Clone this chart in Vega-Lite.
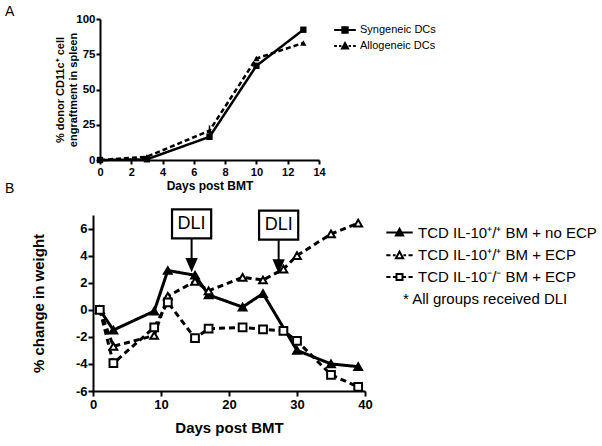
{
  "$schema": "https://vega.github.io/schema/vega-lite/v6.json",
  "padding": {"left": 5, "top": 5, "right": 5, "bottom": 5},
  "spacing": -10,
  "config": {
    "font": "Liberation Sans",
    "view": {"stroke": null},
    "axis": {
      "grid": false, "domainColor": "black", "domainWidth": 2, "tickColor": "black", "tickWidth": 2,
      "labelColor": "black", "titleColor": "black", "labelFontWeight": "bold", "titleFontWeight": "bold",
      "labelFont": "Liberation Sans", "titleFont": "Liberation Sans", "labelOverlap": false, "labelFlush": false, "tickCount": 30
    },
    "legend": {"padding": 0, "labelColor": "black", "labelFont": "Liberation Sans", "labelLimit": 0, "symbolStrokeWidth": 2},
    "title": {"color": "black", "font": "Liberation Sans"}
  },
  "datasets": {
    "a": [
      {"series": "Syngeneic DCs", "day": 0, "pct": 0},
      {"series": "Syngeneic DCs", "day": 3, "pct": 0.5},
      {"series": "Syngeneic DCs", "day": 7, "pct": 16.4},
      {"series": "Syngeneic DCs", "day": 10, "pct": 66.8},
      {"series": "Syngeneic DCs", "day": 13, "pct": 92.4},
      {"series": "Allogeneic DCs", "day": 0, "pct": 0},
      {"series": "Allogeneic DCs", "day": 3, "pct": 2.3},
      {"series": "Allogeneic DCs", "day": 7, "pct": 20.8},
      {"series": "Allogeneic DCs", "day": 10, "pct": 72},
      {"series": "Allogeneic DCs", "day": 13, "pct": 83}
    ],
    "aerr": [
      {"series": "Allogeneic DCs", "day": 7, "lo": 17.5, "hi": 24.5},
      {"series": "Syngeneic DCs", "day": 7, "lo": 15, "hi": 18}
    ],
    "b": [
      {"group": "TCD IL-10⁺/⁺ BM + no ECP", "day": 1, "change": 0},
      {"group": "TCD IL-10⁺/⁺ BM + no ECP", "day": 3, "change": -1.5},
      {"group": "TCD IL-10⁺/⁺ BM + no ECP", "day": 9, "change": -0.1},
      {"group": "TCD IL-10⁺/⁺ BM + no ECP", "day": 11, "change": 2.9},
      {"group": "TCD IL-10⁺/⁺ BM + no ECP", "day": 15, "change": 2.55},
      {"group": "TCD IL-10⁺/⁺ BM + no ECP", "day": 17, "change": 1.1},
      {"group": "TCD IL-10⁺/⁺ BM + no ECP", "day": 22, "change": 0.2},
      {"group": "TCD IL-10⁺/⁺ BM + no ECP", "day": 25, "change": 1.2},
      {"group": "TCD IL-10⁺/⁺ BM + no ECP", "day": 30, "change": -3.0},
      {"group": "TCD IL-10⁺/⁺ BM + no ECP", "day": 35, "change": -4.0},
      {"group": "TCD IL-10⁺/⁺ BM + no ECP", "day": 39, "change": -4.2},
      {"group": "TCD IL-10⁺/⁺ BM + ECP", "day": 1, "change": 0},
      {"group": "TCD IL-10⁺/⁺ BM + ECP", "day": 3, "change": -2.7},
      {"group": "TCD IL-10⁺/⁺ BM + ECP", "day": 9, "change": -1.9},
      {"group": "TCD IL-10⁺/⁺ BM + ECP", "day": 11, "change": 1.0},
      {"group": "TCD IL-10⁺/⁺ BM + ECP", "day": 15, "change": 2.1},
      {"group": "TCD IL-10⁺/⁺ BM + ECP", "day": 17, "change": 1.4},
      {"group": "TCD IL-10⁺/⁺ BM + ECP", "day": 22, "change": 2.4},
      {"group": "TCD IL-10⁺/⁺ BM + ECP", "day": 25, "change": 2.2},
      {"group": "TCD IL-10⁺/⁺ BM + ECP", "day": 28, "change": 3.0},
      {"group": "TCD IL-10⁺/⁺ BM + ECP", "day": 30, "change": 4.0},
      {"group": "TCD IL-10⁺/⁺ BM + ECP", "day": 35, "change": 5.6},
      {"group": "TCD IL-10⁺/⁺ BM + ECP", "day": 39, "change": 6.4},
      {"group": "TCD IL-10⁻/⁻ BM + ECP", "day": 1, "change": 0},
      {"group": "TCD IL-10⁻/⁻ BM + ECP", "day": 3, "change": -3.95},
      {"group": "TCD IL-10⁻/⁻ BM + ECP", "day": 9, "change": -1.3},
      {"group": "TCD IL-10⁻/⁻ BM + ECP", "day": 11, "change": 0.55},
      {"group": "TCD IL-10⁻/⁻ BM + ECP", "day": 15, "change": -2.1},
      {"group": "TCD IL-10⁻/⁻ BM + ECP", "day": 17, "change": -1.4},
      {"group": "TCD IL-10⁻/⁻ BM + ECP", "day": 22, "change": -1.3},
      {"group": "TCD IL-10⁻/⁻ BM + ECP", "day": 25, "change": -1.45},
      {"group": "TCD IL-10⁻/⁻ BM + ECP", "day": 28, "change": -1.55},
      {"group": "TCD IL-10⁻/⁻ BM + ECP", "day": 30, "change": -2.3},
      {"group": "TCD IL-10⁻/⁻ BM + ECP", "day": 35, "change": -4.8},
      {"group": "TCD IL-10⁻/⁻ BM + ECP", "day": 39, "change": -5.7}
    ],
    "dli": [
      {"day": 14.5, "tip": 2.95, "label": "DLI"},
      {"day": 27.3, "tip": 2.85, "label": "DLI"}
    ],
    "none": []
  },
  "vconcat": [
    {
      "width": 226,
      "height": 141,
      "title": {"text": "A", "anchor": "start", "frame": "group", "fontSize": 14, "fontWeight": "normal", "dx": -88, "offset": -6},
      "resolve": {"scale": {"shape": "independent"}},
      "layer": [
        {
          "data": {"name": "a"},
          "mark": {"type": "line", "color": "black", "strokeWidth": 2.5},
          "encoding": {
            "x": {"field": "day", "type": "quantitative", "scale": {"domain": [0, 14], "nice": false, "range": [7, 226]},
                  "axis": {"values": [0, 2, 4, 6, 8, 10, 12, 14], "tickCount": 30, "labelExpr": "'' + datum.value", "title": "Days post BMT", "labelFontSize": 11, "titleFontSize": 12, "tickSize": 4, "labelPadding": 2, "titlePadding": 3}},
            "y": {"field": "pct", "type": "quantitative", "scale": {"domain": [0, 100], "nice": false},
                  "axis": {"values": [0, 25, 50, 75, 100], "tickCount": 30, "labelExpr": "'' + datum.value", "offset": -7, "title": ["% donor CD11c⁺ cell", "engraftment in spleen"], "titleLineHeight": 13, "labelFontSize": 11.5, "titleFontSize": 11, "tickSize": 4, "labelPadding": 1, "titlePadding": -3}},
            "strokeDash": {"field": "series", "type": "nominal", "scale": {"domain": ["Syngeneic DCs", "Allogeneic DCs"], "range": [[1, 0], [5, 3]]}, "legend": null}
          }
        },
        {
          "data": {"name": "aerr"},
          "mark": {"type": "rule", "color": "black", "strokeWidth": 1.5},
          "encoding": {
            "x": {"field": "day", "type": "quantitative"},
            "y": {"field": "lo", "type": "quantitative"},
            "y2": {"field": "hi"}
          }
        },
        {
          "data": {"name": "a"},
          "mark": {"type": "point", "filled": true, "color": "black", "size": 40, "opacity": 1},
          "encoding": {
            "x": {"field": "day", "type": "quantitative"},
            "y": {"field": "pct", "type": "quantitative"},
            "shape": {"field": "series", "type": "nominal", "scale": {"domain": ["Syngeneic DCs", "Allogeneic DCs"], "range": ["square", "triangle-up"]}, "legend": null}
          }
        },
        {
          "data": {"name": "none"},
          "mark": {"type": "point", "filled": false, "color": "black", "strokeWidth": 2, "opacity": 1},
          "encoding": {
            "shape": {"field": "series", "type": "nominal",
              "scale": {"domain": ["Syngeneic DCs", "Allogeneic DCs"], "range": ["M-1.8,0H1.8M-0.45,-0.45H0.45V0.45H-0.45ZM-0.15,-0.15H0.15V0.15H-0.15Z", "M-1.8,0H-1.35M-1.0,0H-0.6M0.6,0H1.0M1.35,0H1.8M-0.5,0.4L0,-0.5L0.5,0.4ZM-0.2,0.2L0,-0.15L0.2,0.2Z"]},
              "legend": {"title": null, "orient": "none", "legendX": 245, "legendY": 4, "labelFontSize": 11, "symbolSize": 144, "labelOffset": 8, "rowPadding": 2, "symbolStrokeWidth": 2, "symbolStrokeColor": "black", "symbolFillColor": "transparent"}}
          }
        }
      ]
    },
    {
      "width": 272,
      "height": 176,
      "title": {"text": "B", "anchor": "start", "frame": "group", "fontSize": 14, "fontWeight": "normal", "dx": -88, "offset": 9},
      "resolve": {"scale": {"shape": "independent"}},
      "layer": [
        {
          "mark": {"type": "rule", "color": "black", "strokeWidth": 2.5, "strokeDash": [6, 4]},
          "encoding": {"y": {"datum": 0, "type": "quantitative"}}
        },
        {
          "data": {"name": "b"},
          "mark": {"type": "line", "color": "black", "strokeWidth": 3},
          "encoding": {
            "x": {"field": "day", "type": "quantitative", "scale": {"domain": [0, 40], "nice": false},
                  "axis": {"values": [0, 10, 20, 30, 40], "tickCount": 30, "labelExpr": "'' + datum.value", "title": "Days post BMT", "labelFontSize": 13, "titleFontSize": 15, "tickSize": 5, "labelPadding": 2, "titlePadding": 9}},
            "y": {"field": "change", "type": "quantitative", "scale": {"domain": [-6, 7], "nice": false},
                  "axis": {"values": [-6, -4, -2, 0, 2, 4, 6], "tickCount": 30, "labelExpr": "'' + datum.value", "title": "% change in weight", "labelFontSize": 13, "titleFontSize": 15, "tickSize": 5, "labelPadding": 1, "titlePadding": 29}},
            "strokeDash": {"field": "group", "type": "nominal", "scale": {"domain": ["TCD IL-10⁺/⁺ BM + no ECP", "TCD IL-10⁺/⁺ BM + ECP", "TCD IL-10⁻/⁻ BM + ECP"], "range": [[1, 0], [6, 4], [6, 4]]}, "legend": null}
          }
        },
        {
          "data": {"name": "b"},
          "mark": {"type": "point", "filled": true, "stroke": "black", "strokeWidth": 2, "size": 60, "opacity": 1},
          "encoding": {
            "x": {"field": "day", "type": "quantitative"},
            "y": {"field": "change", "type": "quantitative"},
            "fill": {"condition": {"test": "datum.group === 'TCD IL-10⁺/⁺ BM + no ECP'", "value": "black"}, "value": "white"},
            "shape": {"field": "group", "type": "nominal", "scale": {"domain": ["TCD IL-10⁺/⁺ BM + no ECP", "TCD IL-10⁺/⁺ BM + ECP", "TCD IL-10⁻/⁻ BM + ECP"], "range": ["triangle-up", "triangle-up", "square"]}, "legend": null}
          }
        },
        {
          "data": {"name": "none"},
          "mark": {"type": "point", "filled": false, "color": "black", "strokeWidth": 2, "opacity": 1},
          "encoding": {
            "shape": {"field": "group", "type": "nominal",
              "scale": {"domain": ["TCD IL-10⁺/⁺ BM + no ECP", "TCD IL-10⁺/⁺ BM + ECP", "TCD IL-10⁻/⁻ BM + ECP"],
                        "range": ["M-2.2,0H2.2M-0.6,0.5L0,-0.6L0.6,0.5ZM-0.25,0.25L0,-0.2L0.25,0.25Z", "M-2.2,0H-1.5M-1.1,0H-0.65M0.65,0H1.1M1.5,0H2.2M-0.6,0.5L0,-0.6L0.6,0.5Z", "M-2.2,0H-1.5M-1.1,0H-0.55M0.55,0H1.1M1.5,0H2.2M-0.5,-0.5H0.5V0.5H-0.5Z"]},
              "legend": {"title": null, "orient": "none", "legendX": 299, "legendY": 10, "labelFontSize": 15, "symbolSize": 144, "labelOffset": 11, "rowPadding": 5.7, "symbolStrokeWidth": 2, "symbolStrokeColor": "black", "symbolFillColor": "transparent"}}
          }
        },
        {
          "data": {"name": "none"},
          "mark": {"type": "point", "filled": true, "opacity": 1},
          "encoding": {
            "opacity": {"field": "note", "type": "nominal", "scale": {"domain": ["* All groups received DLI"], "range": [0]},
              "legend": {"title": null, "orient": "none", "legendX": 295, "legendY": 76, "labelFontSize": 15, "symbolSize": 1, "symbolType": "M0,0", "symbolOpacity": 0, "symbolStrokeWidth": 0, "labelOffset": 0}}
          }
        },
        {
          "data": {"name": "dli"},
          "mark": {"type": "point", "shape": "M0,-2V-0.6M-0.3,-0.7L0.3,-0.7L0,0Z", "size": 961, "filled": true, "fill": "black", "stroke": "black", "strokeWidth": 2, "opacity": 1},
          "encoding": {"x": {"field": "day", "type": "quantitative"}, "y": {"field": "tip", "type": "quantitative"}}
        },
        {
          "data": {"name": "dli"},
          "mark": {"type": "point", "shape": "M-1.35,-1H1.35V1H-1.35Z", "size": 841, "filled": true, "fill": "white", "stroke": "black", "strokeWidth": 2.2, "opacity": 1, "yOffset": -46},
          "encoding": {"x": {"field": "day", "type": "quantitative"}, "y": {"field": "tip", "type": "quantitative"}}
        },
        {
          "data": {"name": "dli"},
          "mark": {"type": "text", "fontSize": 18, "color": "black", "baseline": "middle", "align": "center", "yOffset": -46},
          "encoding": {"x": {"field": "day", "type": "quantitative"}, "y": {"field": "tip", "type": "quantitative"}, "text": {"field": "label"}}
        }
      ]
    }
  ],
  "resolve": {"scale": {"x": "independent", "y": "independent", "shape": "independent", "strokeDash": "independent", "fill": "independent", "opacity": "independent"}, "legend": {"shape": "independent", "fill": "independent", "opacity": "independent"}}
}
